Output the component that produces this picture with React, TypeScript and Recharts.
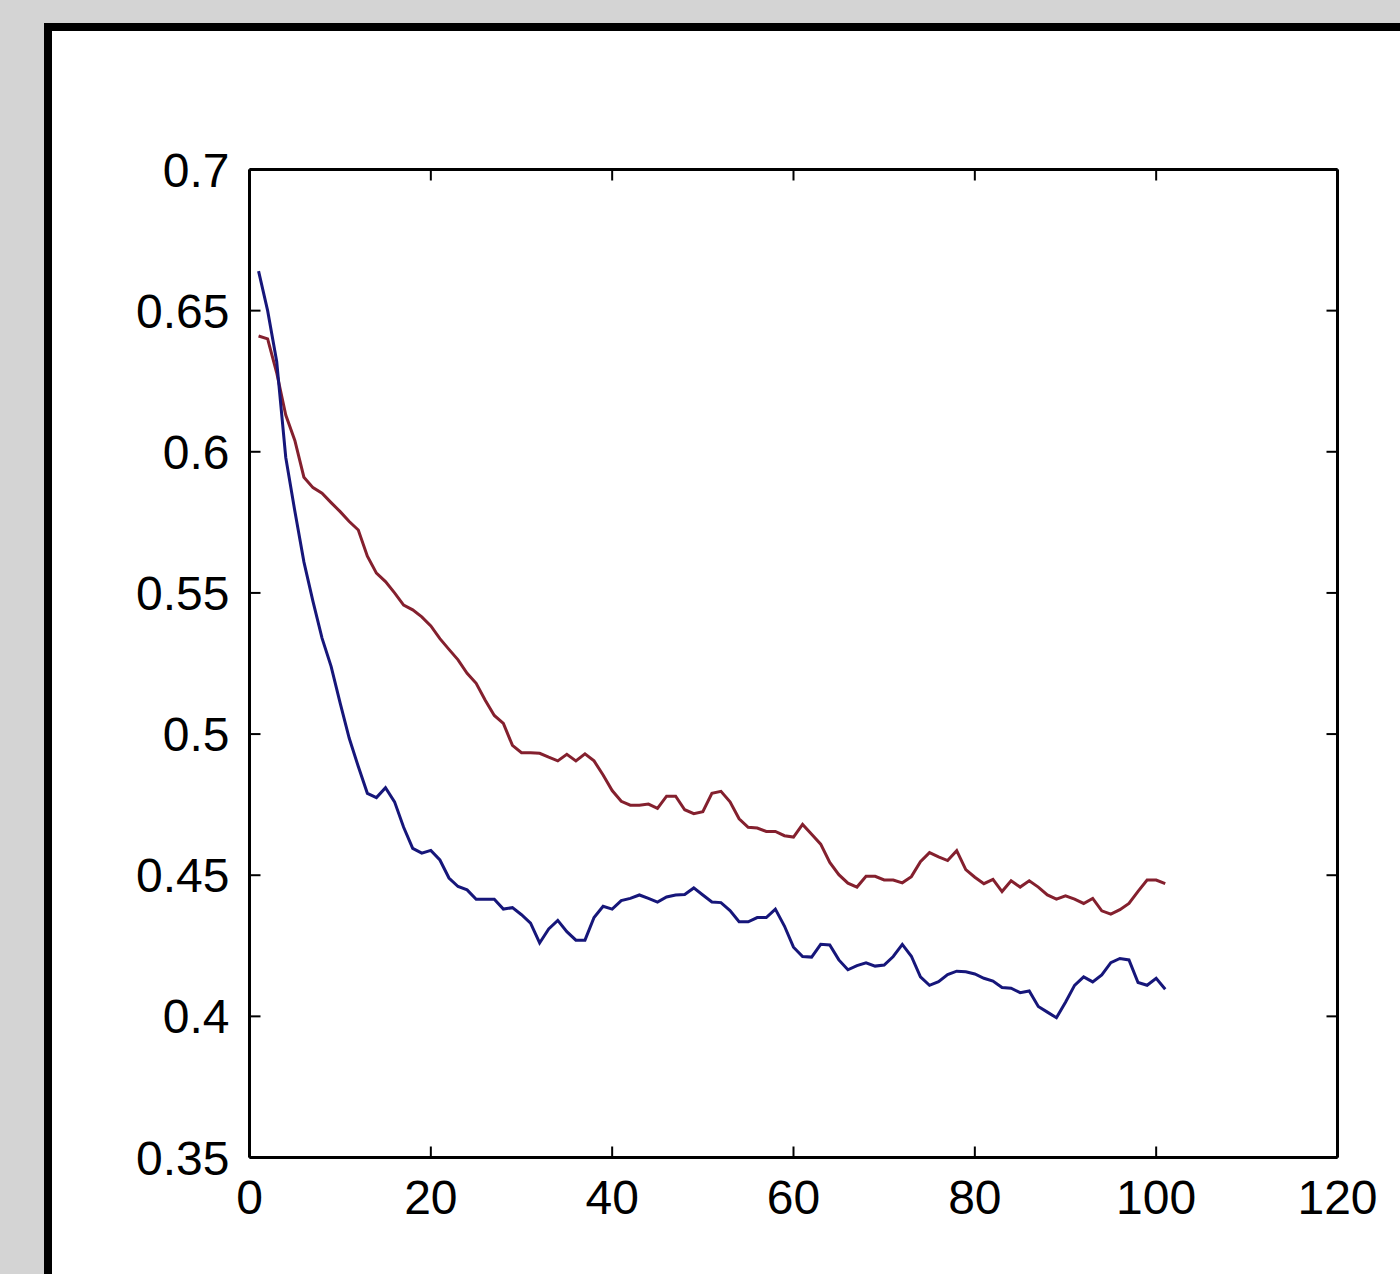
import { LineChart, Line, XAxis, YAxis } from 'recharts'

// values, one per iteration (1..101)
const blueSeries = [
  0.664, 0.65, 0.632, 0.598, 0.579, 0.561, 0.547, 0.534, 0.524, 0.511,
  0.4985, 0.4885, 0.479, 0.4775, 0.481, 0.476, 0.467, 0.4595, 0.4578, 0.4588,
  0.4554, 0.449, 0.446, 0.4448, 0.4415, 0.4415, 0.4415, 0.438, 0.4385, 0.436,
  0.433, 0.426, 0.431, 0.434, 0.43, 0.427, 0.427, 0.435, 0.439, 0.438,
  0.441, 0.4418, 0.443, 0.4418, 0.4405, 0.4423, 0.443, 0.4432, 0.4455, 0.443,
  0.4405, 0.4403, 0.4375, 0.4335, 0.4335, 0.435, 0.435, 0.438, 0.432, 0.4245,
  0.4212, 0.421, 0.4255, 0.4253, 0.42, 0.4165, 0.418, 0.419, 0.4178, 0.4182,
  0.4212, 0.4255, 0.4213, 0.414, 0.411, 0.4123, 0.4148, 0.416, 0.4158, 0.415,
  0.4135, 0.4125, 0.4102, 0.41, 0.4084, 0.409, 0.4035, 0.4015, 0.3995, 0.405,
  0.411, 0.414, 0.4122, 0.4147, 0.419, 0.4205, 0.42, 0.412, 0.411, 0.4135, 0.4096,
]

const redSeries = [
  0.641, 0.64, 0.628, 0.613, 0.604, 0.591, 0.5873, 0.5853, 0.582, 0.5788,
  0.5753, 0.5723, 0.563, 0.557, 0.554, 0.55, 0.5457, 0.544, 0.5415, 0.5383,
  0.5338, 0.53, 0.5263, 0.5215, 0.518, 0.512, 0.5066, 0.5038, 0.496, 0.4934,
  0.4934, 0.4932, 0.4918, 0.4905, 0.4928, 0.4905, 0.493, 0.4905, 0.4855, 0.48,
  0.4762, 0.4748, 0.4748, 0.4752, 0.4737, 0.478, 0.478, 0.4732, 0.4718, 0.4725,
  0.479, 0.4797, 0.476, 0.47, 0.467, 0.4667, 0.4655, 0.4655, 0.464, 0.4635,
  0.468, 0.4645, 0.461, 0.4545, 0.4502, 0.4472, 0.4458, 0.4496, 0.4496, 0.4483,
  0.4483, 0.4473, 0.4495, 0.4548, 0.458, 0.4565, 0.4552, 0.4587, 0.452, 0.4493,
  0.447, 0.4485, 0.4442, 0.448, 0.4458, 0.448, 0.4458, 0.443, 0.4415, 0.4427,
  0.4415, 0.44, 0.4418, 0.4374, 0.4362, 0.4378, 0.44, 0.4443, 0.4483, 0.4483, 0.447,
]

const xTicks = [0, 20, 40, 60, 80, 100, 120]
const yTicks = [0.35, 0.4, 0.45, 0.5, 0.55, 0.6, 0.65, 0.7]

const chartData = blueSeries.map((b, i) => ({ iter: i + 1, blue: b, red: redSeries[i] }))

const FONT = '"Liberation Sans", Arial, sans-serif'
const axisLine = { stroke: '#000', strokeWidth: 3 }
const tickLine = { stroke: '#000', strokeWidth: 2 }
const tickStyle = { fill: '#000', fontSize: 48, fontFamily: FONT }
const noLabel = () => ''

export default function App() {
  return (
    <div
      style={{
        position: 'absolute',
        left: 0,
        top: 0,
        width: 1400,
        height: 1274,
        overflow: 'hidden',
        background: '#d4d4d4',
      }}
    >
      {/* window frame */}
      <div
        style={{
          position: 'absolute',
          left: 44,
          top: 23,
          width: 1400,
          height: 1300,
          borderLeft: '8px solid #000',
          borderTop: '8px solid #000',
          background: '#fff',
        }}
      />
      <div style={{ position: 'absolute', left: 0, top: 0 }}>
        <LineChart
          width={1400}
          height={1274}
          data={chartData}
          margin={{ top: 149.5, right: 42.5, bottom: 56.5, left: 149.5 }}
        >
          <XAxis
            dataKey="iter"
            type="number"
            domain={[0, 120]}
            ticks={xTicks}
            interval={0}
            allowDataOverflow
            height={60}
            tickSize={-11}
            tickMargin={33.5}
            axisLine={axisLine}
            tickLine={tickLine}
            tick={tickStyle}
          />
          <XAxis
            xAxisId="top"
            orientation="top"
            dataKey="iter"
            type="number"
            domain={[0, 120]}
            ticks={xTicks}
            interval={0}
            allowDataOverflow
            height={20}
            tickSize={-11}
            axisLine={axisLine}
            tickLine={tickLine}
            tickFormatter={noLabel}
          />
          <YAxis
            type="number"
            domain={[0.35, 0.7]}
            ticks={yTicks}
            interval={0}
            allowDataOverflow
            width={100}
            tickSize={-11}
            tickMargin={31}
            axisLine={axisLine}
            tickLine={tickLine}
            tick={tickStyle}
          />
          <YAxis
            yAxisId="right"
            orientation="right"
            type="number"
            domain={[0.35, 0.7]}
            ticks={yTicks}
            interval={0}
            allowDataOverflow
            width={20}
            tickSize={-11}
            axisLine={axisLine}
            tickLine={tickLine}
            tickFormatter={noLabel}
          />
          <Line
            type="linear"
            dataKey="red"
            stroke="#84202e"
            strokeWidth={3}
            dot={false}
            isAnimationActive={false}
          />
          <Line
            type="linear"
            dataKey="blue"
            stroke="#16167a"
            strokeWidth={3}
            dot={false}
            isAnimationActive={false}
          />
        </LineChart>
      </div>
    </div>
  )
}
